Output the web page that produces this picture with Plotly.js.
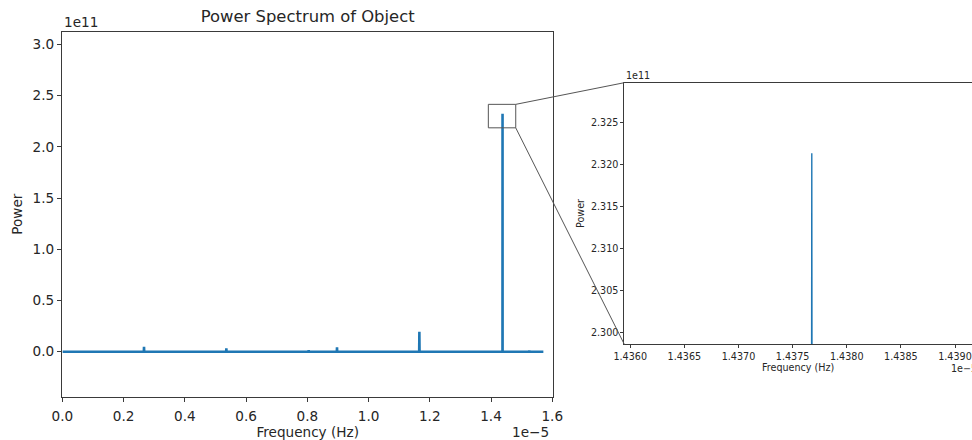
<!DOCTYPE html>
<html><head><meta charset="utf-8">
<script src="https://cdn.plot.ly/plotly-3.0.1.min.js"></script>
<style>html,body{margin:0;padding:0;background:#fff;} #chart{width:972px;height:440px;}</style>
</head><body><div id="chart"></div>
<script>
// Frequency in units of 1e-5 Hz, power in units of 1e11 (matplotlib offset notation)
const freq = [0.0000,
  0.2660, 0.2666, 0.2672,
  0.5349, 0.5355, 0.5361,
  0.6284, 0.6290, 0.6296,
  0.8039, 0.8045, 0.8051,
  0.8964, 0.8970, 0.8976,
  0.9904, 0.9910, 0.9916,
  1.0719, 1.0725, 1.0731,
  1.1654, 1.1660, 1.1666,
  1.2581, 1.2587, 1.2593,
  1.3414, 1.3420, 1.3426,
  1.43750, 1.437677, 1.43786,
  1.5244, 1.5250, 1.5256,
  1.5710];
const power = [0.000,
  0.000, 0.049, 0.000,
  0.000, 0.033, 0.000,
  0.000, 0.010, 0.000,
  0.000, 0.015, 0.000,
  0.000, 0.043, 0.000,
  0.000, 0.008, 0.000,
  0.000, 0.010, 0.000,
  0.000, 0.195, 0.000,
  0.000, 0.010, 0.000,
  0.000, 0.010, 0.000,
  0.000, 2.32135, 0.000,
  0.000, 0.012, 0.000,
  0.000];
const mainXTicks = [0.0, 0.2, 0.4, 0.6, 0.8, 1.0, 1.2, 1.4, 1.6];
const mainYTicks = [0.0, 0.5, 1.0, 1.5, 2.0, 2.5, 3.0];
const insetXTicks = [1.4360, 1.4365, 1.4370, 1.4375, 1.4380, 1.4385, 1.4390];
const insetYTicks = [2.300, 2.305, 2.310, 2.315, 2.320, 2.325];

const W = 972, H = 440;
const FONT = 'DejaVu Sans, Liberation Sans, sans-serif';
const TXT = '#262626';
const SPINE = '#3a3a3a';
const BLUE = '#1f77b4';

// layout geometry (pixels)
const mainDomX = [62.4 / W, 553 / W];
const mainDomY = [(H - 396.7) / H, (H - 31.7) / H];
const mainRX = [0, 1.6025];
const mainRY = [-0.439, 3.123];
const insDomX = [624.3 / W, 1];
const insDomY = [(H - 344.3) / H, (H - 82.7) / H];
const insRX = [1.435945, 1.439157];
const insRY = [2.29857, 2.32977];
// zoom indicator box (in main data units)
const boxX = [1.3913, 1.4808], boxY = [2.185, 2.414];

function px(v) { return mainDomX[0] + (v - mainRX[0]) / (mainRX[1] - mainRX[0]) * (mainDomX[1] - mainDomX[0]); }
function py(v) { return mainDomY[0] + (v - mainRY[0]) / (mainRY[1] - mainRY[0]) * (mainDomY[1] - mainDomY[0]); }

const traces = [
  { x: freq, y: power, type: 'scatter', mode: 'lines', line: { color: BLUE, width: 2.6 },
    xaxis: 'x', yaxis: 'y', hoverinfo: 'skip', showlegend: false },
  { x: freq, y: power, type: 'scatter', mode: 'lines', line: { color: BLUE, width: 1.4 },
    xaxis: 'x2', yaxis: 'y2', hoverinfo: 'skip', showlegend: false }
];

const axBase = {
  showgrid: false, zeroline: false, showline: true, linecolor: SPINE, linewidth: 1,
  ticks: 'outside', tickcolor: SPINE, tickwidth: 1, automargin: false
};

const layout = {
  width: W, height: H,
  margin: { l: 0, r: 0, t: 0, b: 0 },
  paper_bgcolor: '#fff', plot_bgcolor: '#fff',
  font: { family: FONT, color: TXT, size: 13.6 },
  title: { text: 'Power Spectrum of Object', font: { size: 16.4, color: TXT, family: FONT },
           x: (mainDomX[0] + mainDomX[1]) / 2, xanchor: 'center', xref: 'paper',
           y: (H - 16) / H, yanchor: 'middle', yref: 'container' },
  xaxis: Object.assign({}, axBase, {
    domain: mainDomX, range: mainRX, anchor: 'y', mirror: true,
    tickvals: mainXTicks, tickformat: '.1f', ticklen: 4.5, tickfont: { size: 13.6 },
    ticklabelstandoff: 2,
    title: { text: 'Frequency (Hz)', font: { size: 13.6 }, standoff: 5 }
  }),
  yaxis: Object.assign({}, axBase, {
    domain: mainDomY, range: mainRY, anchor: 'x', mirror: true,
    tickvals: mainYTicks, tickformat: '.1f', ticklen: 4.5, tickfont: { size: 13.6 },
    title: { text: 'Power', font: { size: 13.6 }, standoff: 6 }
  }),
  xaxis2: Object.assign({}, axBase, {
    domain: insDomX, range: insRX, anchor: 'y2', mirror: true,
    tickvals: insetXTicks, tickformat: '.4f', ticklen: 3, tickfont: { size: 9.6 },
    title: { text: 'Frequency (Hz)', font: { size: 9.6 }, standoff: 3 }
  }),
  yaxis2: Object.assign({}, axBase, {
    domain: insDomY, range: insRY, anchor: 'x2', mirror: false,
    tickvals: insetYTicks, tickformat: '.3f', ticklen: 3, tickfont: { size: 9.6 },
    title: { text: 'Power', font: { size: 9.6 }, standoff: 4 }
  }),
  shapes: [
    { type: 'rect', xref: 'x', yref: 'y', x0: boxX[0], x1: boxX[1], y0: boxY[0], y1: boxY[1],
      line: { color: '#555', width: 1 }, fillcolor: 'rgba(0,0,0,0)', layer: 'above' },
    { type: 'line', xref: 'paper', yref: 'paper', x0: px(boxX[1]), y0: py(boxY[1]),
      x1: insDomX[0], y1: insDomY[1], line: { color: '#555', width: 1 } },
    { type: 'line', xref: 'paper', yref: 'paper', x0: px(boxX[1]), y0: py(boxY[0]),
      x1: insDomX[0], y1: insDomY[0], line: { color: '#555', width: 1 } }
  ],
  annotations: [
    { text: '1e11', xref: 'paper', yref: 'paper', x: mainDomX[0], y: (H - 21.7) / H,
      xanchor: 'left', yanchor: 'middle', showarrow: false, font: { size: 13.6 } },
    { text: '1e\u22125', xref: 'paper', yref: 'paper', x: 551 / W, y: (H - 431.7) / H,
      xanchor: 'right', yanchor: 'middle', showarrow: false, font: { size: 13.6 } },
    { text: '1e11', xref: 'paper', yref: 'paper', x: insDomX[0], y: (H - 75.7) / H,
      xanchor: 'left', yanchor: 'middle', showarrow: false, font: { size: 9.6 } },
    { text: '1e\u22125', xref: 'paper', yref: 'paper', x: 949 / W, y: (H - 368.3) / H,
      xanchor: 'left', yanchor: 'middle', showarrow: false, font: { size: 9.6 } }
  ]
};

Plotly.newPlot('chart', traces, layout, { displayModeBar: false, staticPlot: true });
</script>
</body></html>
